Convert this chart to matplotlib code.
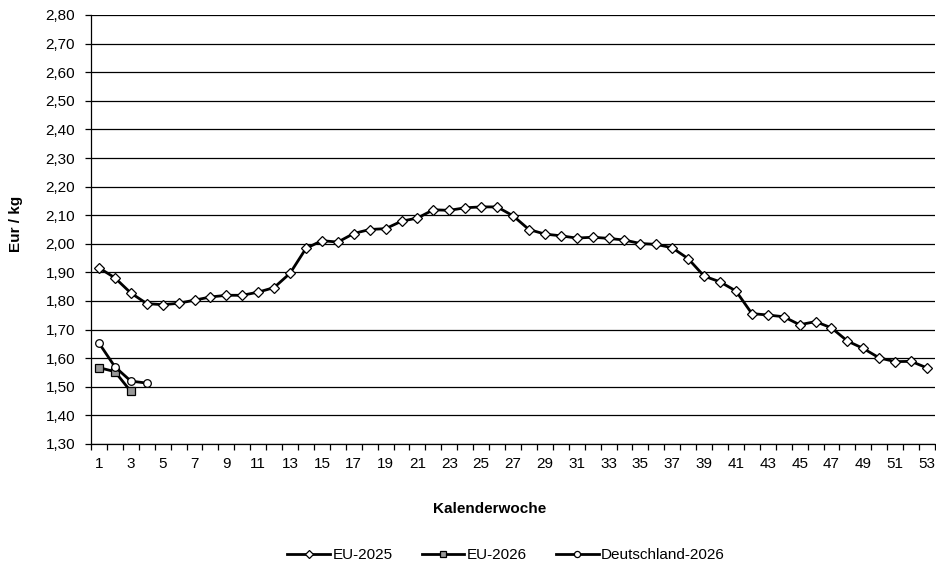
import matplotlib
matplotlib.use("Agg")
import matplotlib.pyplot as plt
import numpy as np

plt.rcParams['font.family'] = ['Liberation Sans', 'DejaVu Sans']

# Kalenderwochen
weeks_2025 = list(range(1, 54))
eu_2025 = [1.916, 1.881, 1.828, 1.791, 1.787, 1.792, 1.803, 1.814, 1.820, 1.820,
           1.831, 1.847, 1.897, 1.984, 2.011, 2.006, 2.036, 2.050, 2.053, 2.079,
           2.090, 2.119, 2.117, 2.126, 2.129, 2.129, 2.098, 2.050, 2.034, 2.028,
           2.020, 2.023, 2.019, 2.013, 2.001, 1.998, 1.986, 1.948, 1.887, 1.867,
           1.835, 1.756, 1.751, 1.745, 1.717, 1.728, 1.706, 1.660, 1.634, 1.601,
           1.588, 1.589, 1.566]

weeks_eu_2026 = [1, 2, 3]
eu_2026 = [1.567, 1.553, 1.484]

weeks_de_2026 = [1, 2, 3, 4]
de_2026 = [1.653, 1.570, 1.520, 1.513]

y_ticks = np.arange(1.30, 2.81, 0.10)
x_labels = list(range(1, 54, 2))

fig = plt.figure(figsize=(9.37, 5.68), dpi=100)
ax = fig.add_axes([91 / 937, (568 - 444) / 568, (935 - 91) / 937, (444 - 15) / 568])

ax.plot(weeks_2025, eu_2025, color='black', lw=2.0, marker='D', ms=5,
        mfc='white', mec='black', mew=0.9, label='EU-2025')
ax.plot(weeks_eu_2026, eu_2026, color='black', lw=2.0, marker='s', ms=5.5,
        mfc='#999999', mec='black', mew=0.9, label='EU-2026')
ax.plot(weeks_de_2026, de_2026, color='black', lw=2.0, marker='o', ms=5.5,
        mfc='white', mec='black', mew=0.9, label='Deutschland-2026')

ax.set_xlim(0.5, 53.5)
ax.set_ylim(1.30, 2.80)
ax.set_yticks(y_ticks)
ax.set_yticklabels([f"{v:.2f}".replace('.', ',') for v in y_ticks], fontsize=11)
ax.yaxis.grid(True, color='black', lw=0.9)
ax.set_axisbelow(True)

# labels at odd weeks, tick marks on category boundaries
ax.set_xticks(x_labels)
ax.set_xticklabels([str(w) for w in x_labels], fontsize=11)
ax.tick_params(axis='x', length=0, pad=9)
ax.set_xticks(np.arange(0.5, 54, 1.0), minor=True)
ax.tick_params(axis='x', which='minor', length=4.5, width=0.9, direction='out')
ax.tick_params(axis='y', length=4.5, width=0.9, direction='out', pad=7)

for side in ['top', 'right']:
    ax.spines[side].set_visible(False)
ax.spines['left'].set_linewidth(0.9)
ax.spines['bottom'].set_linewidth(0.9)

fig.text(16 / 937, 1 - 224 / 568, 'Eur / kg', rotation=90, fontsize=11,
         fontweight='bold', ha='center', va='center')
fig.text(490 / 937, 1 - 509 / 568, 'Kalenderwoche', fontsize=11,
         fontweight='bold', ha='center', va='center')

fig.legend(loc='center', bbox_to_anchor=(506 / 937, 1 - 555 / 568), ncol=3,
           frameon=False, fontsize=11, handlelength=2.8, columnspacing=1.9,
           handletextpad=0.15, markerscale=0.8)

fig.savefig('out.png', dpi=100)
